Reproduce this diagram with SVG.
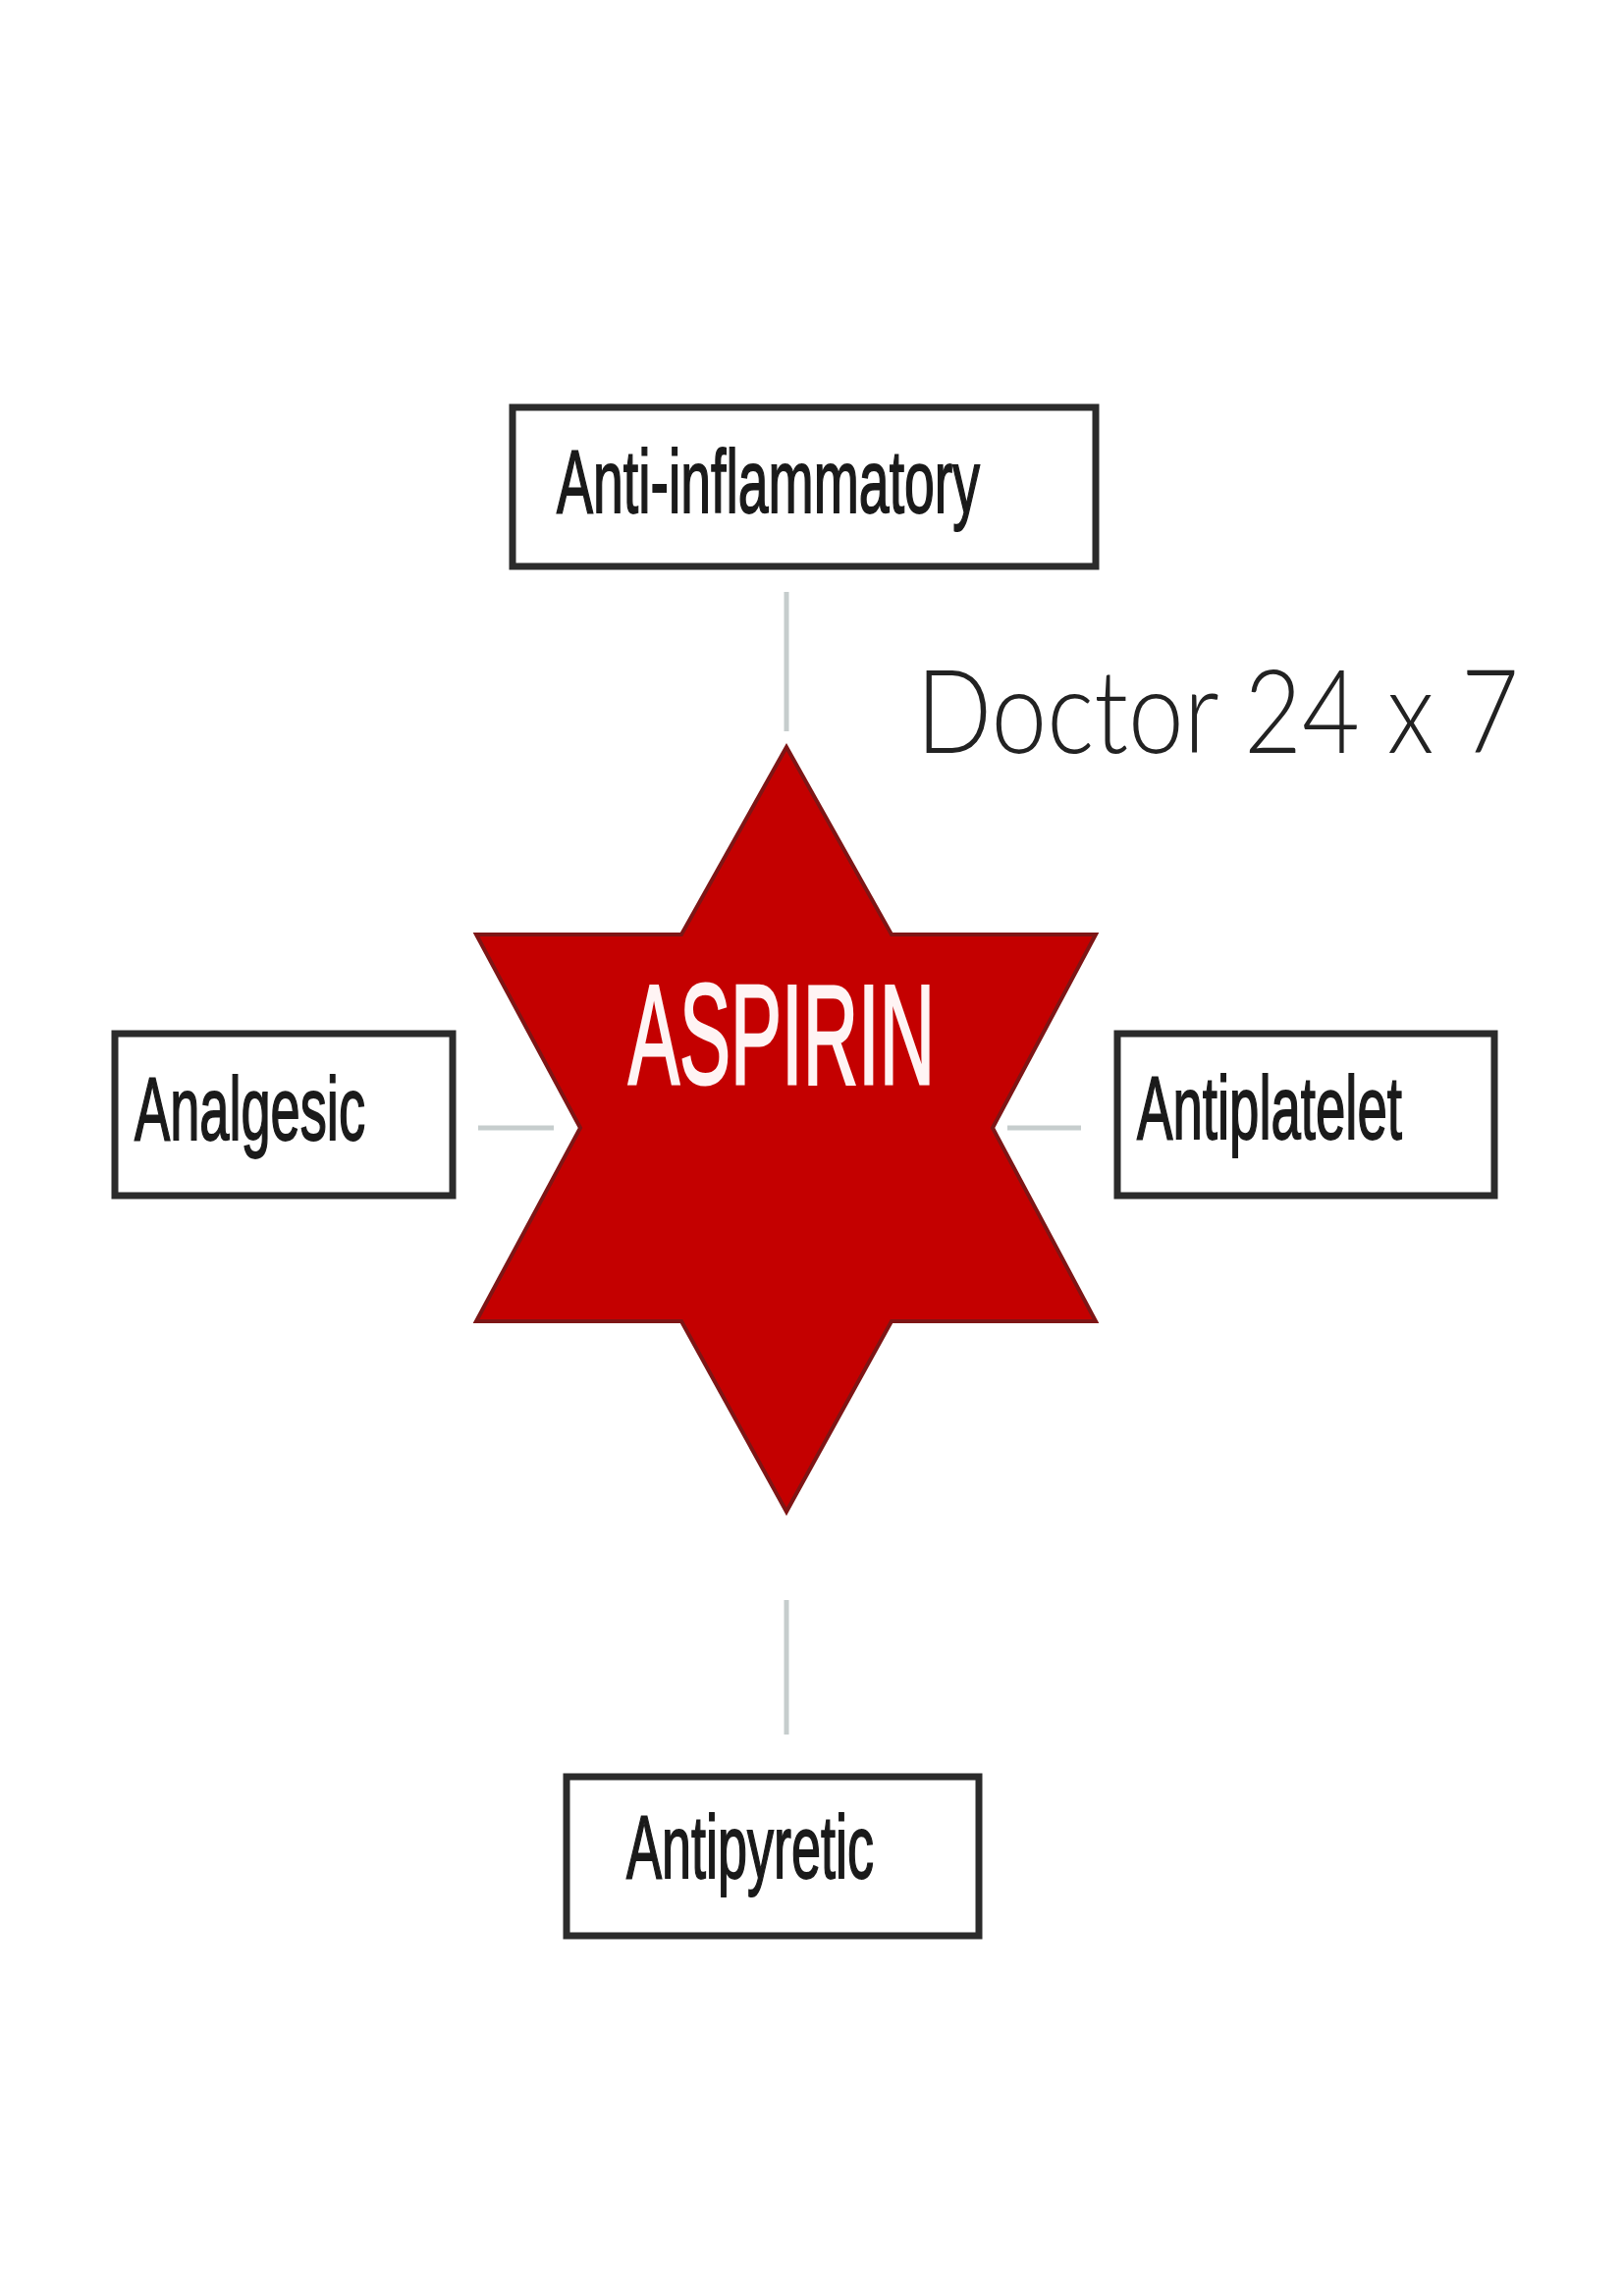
<svg xmlns="http://www.w3.org/2000/svg" width="1653" height="2339" viewBox="0 0 1653 2339">
<style>
.box{fill:#ffffff;stroke:#2b2b2b;stroke-width:7}
.lbl{font-family:"Liberation Sans",Arial,sans-serif;font-size:90px;fill:#1a1a1a;stroke:#1a1a1a;stroke-width:1.8}
.conn{stroke:#c6cdcd;stroke-width:5;fill:none}
.star{fill:#c40000;stroke:#7e1515;stroke-width:4;stroke-linejoin:miter}
.title{font-family:"Liberation Sans",Arial,sans-serif;font-size:145px;fill:#fff4f4;stroke:#fff4f4;stroke-width:3}
.hand{font-family:Lato,"Open Sans","DejaVu Sans",sans-serif;font-weight:300;font-size:118px;fill:#222222}
</style>
<rect width="1653" height="2339" fill="#ffffff"/>
<g id="connectors">
<line class="conn" x1="801" y1="603" x2="801" y2="745"/>
<line class="conn" x1="487" y1="1149" x2="564" y2="1149"/>
<line class="conn" x1="1026" y1="1149" x2="1101" y2="1149"/>
<line class="conn" x1="801" y1="1630" x2="801" y2="1767"/>
</g>
<g id="aspirin">
<polygon class="star" points="801,761 908,952 1116,952 1011,1149 1116,1346 908,1346 801,1540 694,1346 485,1346 591,1149 485,952 694,952"/>
<text class="title" x="640" y="1104" textLength="312" lengthAdjust="spacingAndGlyphs">ASPIRIN</text>
</g>
<g id="anti-inflammatory">
<rect class="box" x="522" y="415" width="594" height="162"/>
<text class="lbl" x="567" y="522" textLength="431" lengthAdjust="spacingAndGlyphs">Anti-inflammatory</text>
</g>
<g id="analgesic">
<rect class="box" x="117" y="1053" width="344" height="165"/>
<text class="lbl" x="137" y="1161" textLength="235" lengthAdjust="spacingAndGlyphs">Analgesic</text>
</g>
<g id="antiplatelet">
<rect class="box" x="1138" y="1053" width="384" height="165"/>
<text class="lbl" x="1158" y="1160" textLength="270" lengthAdjust="spacingAndGlyphs">Antiplatelet</text>
</g>
<g id="antipyretic">
<rect class="box" x="577" y="1810" width="420" height="162"/>
<text class="lbl" x="638" y="1913" textLength="252" lengthAdjust="spacingAndGlyphs">Antipyretic</text>
</g>
<g id="watermark">
<text class="hand" x="933" y="767" textLength="614" lengthAdjust="spacingAndGlyphs">Doctor 24 x 7</text>
</g>
</svg>
